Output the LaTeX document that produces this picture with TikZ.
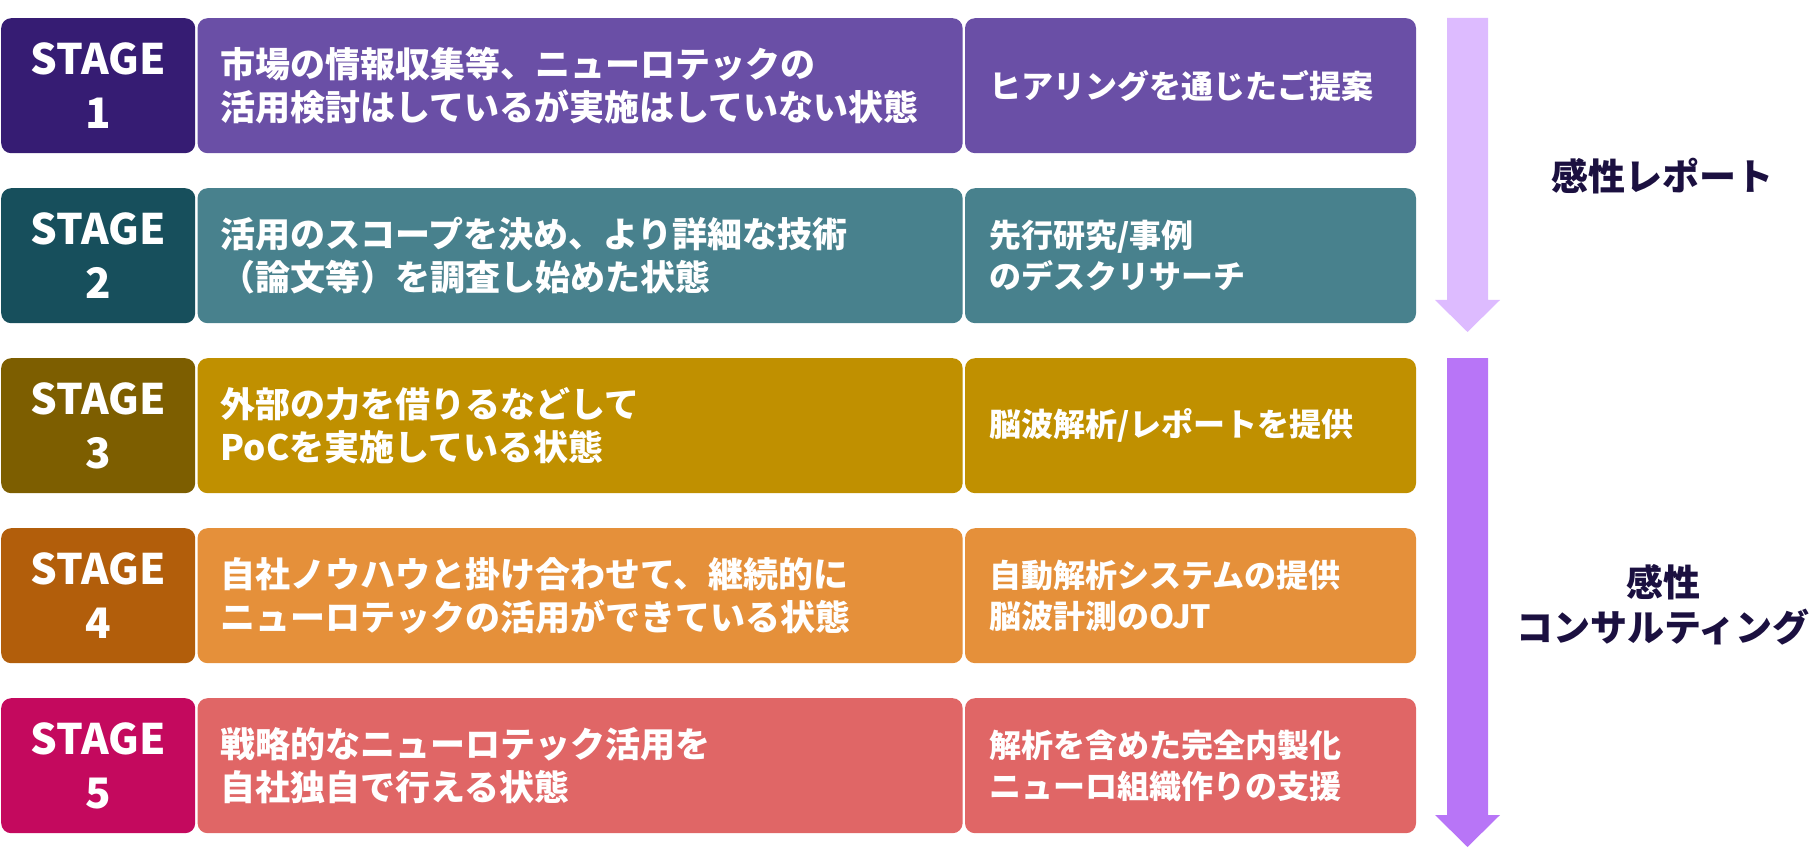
\documentclass[tikz,border=0pt]{standalone}
\usepackage{fontspec}
\setmainfont{Noto Sans CJK JP}
\usetikzlibrary{positioning}
\definecolor{deepA}{HTML}{361C73}
\definecolor{softA}{HTML}{6A4FA6}
\definecolor{deepB}{HTML}{174F5C}
\definecolor{softB}{HTML}{48818D}
\definecolor{deepC}{HTML}{7D5E00}
\definecolor{softC}{HTML}{C09000}
\definecolor{deepD}{HTML}{B25E0B}
\definecolor{softD}{HTML}{E5903A}
\definecolor{deepE}{HTML}{C4095E}
\definecolor{softE}{HTML}{E06666}
\definecolor{arrLight}{HTML}{DDBBFF}
\definecolor{arrStrong}{HTML}{B875F7}
\definecolor{ink}{HTML}{1B1040}

\begin{document}
\begin{tikzpicture}[x=1pt,y=-1pt,node distance=2pt]
    \tikzstyle{stagebox}=[rounded corners=10pt,anchor=north west,minimum width=194pt,minimum height=135pt,inner sep=0pt,text=white,align=center,font=\fontsize{42}{54}\selectfont\bfseries]
    \tikzstyle{statebox}=[rounded corners=10pt,minimum height=135pt,text width=719pt,inner xsep=23pt,inner ysep=0pt,text=white,align=left,font=\fontsize{35}{43}\selectfont\bfseries]
    \tikzstyle{offerbox}=[statebox,text width=403pt,inner xsep=24pt,font=\fontsize{32}{41.5}\selectfont\bfseries]
    \tikzstyle{band}=[text=ink,align=center,font=\fontsize{37}{45}\selectfont\bfseries]
    \useasboundingbox (0,0) rectangle (1812,850);

    % stage 1
    \node[stagebox,fill=deepA] (s1) at (1,18) {STAGE\\1};
    \node[statebox,fill=softA,right=of s1] (m1) {市場の情報収集等、ニューロテックの\\活用検討はしているが実施はしていない状態};
    \node[offerbox,fill=softA,right=of m1] (o1) {ヒアリングを通じたご提案};
    % stage 2
    \node[stagebox,fill=deepB] (s2) at (1,188) {STAGE\\2};
    \node[statebox,fill=softB,right=of s2] (m2) {活用のスコープを決め、より詳細な技術\\（論文等）を調査し始めた状態};
    \node[offerbox,fill=softB,right=of m2] (o2) {先行研究/事例\\のデスクリサーチ};
    % stage 3
    \node[stagebox,fill=deepC] (s3) at (1,358) {STAGE\\3};
    \node[statebox,fill=softC,right=of s3] (m3) {外部の力を借りるなどして\\PoCを実施している状態};
    \node[offerbox,fill=softC,right=of m3] (o3) {脳波解析/レポートを提供};
    % stage 4
    \node[stagebox,fill=deepD] (s4) at (1,528) {STAGE\\4};
    \node[statebox,fill=softD,right=of s4] (m4) {自社ノウハウと掛け合わせて、継続的に\\ニューロテックの活用ができている状態};
    \node[offerbox,fill=softD,right=of m4] (o4) {自動解析システムの提供\\脳波計測のOJT};
    % stage 5
    \node[stagebox,fill=deepE] (s5) at (1,698) {STAGE\\5};
    \node[statebox,fill=softE,right=of s5] (m5) {戦略的なニューロテック活用を\\自社独自で行える状態};
    \node[offerbox,fill=softE,right=of m5] (o5) {解析を含めた完全内製化\\ニューロ組織作りの支援};

    % service arrows
    \fill[arrLight] (1447,18) -- (1488,18) -- (1488,300) -- (1500,300) -- (1467.5,332) -- (1435,300) -- (1447,300) -- cycle;
    \fill[arrStrong] (1447,358) -- (1488,358) -- (1488,815) -- (1500,815) -- (1467.5,847) -- (1435,815) -- (1447,815) -- cycle;
    \node[band] (rep) at (1662,176) {感性レポート};
    \node[band] (con) at (1663,605) {感性\\コンサルティング};
\end{tikzpicture}
\end{document}
